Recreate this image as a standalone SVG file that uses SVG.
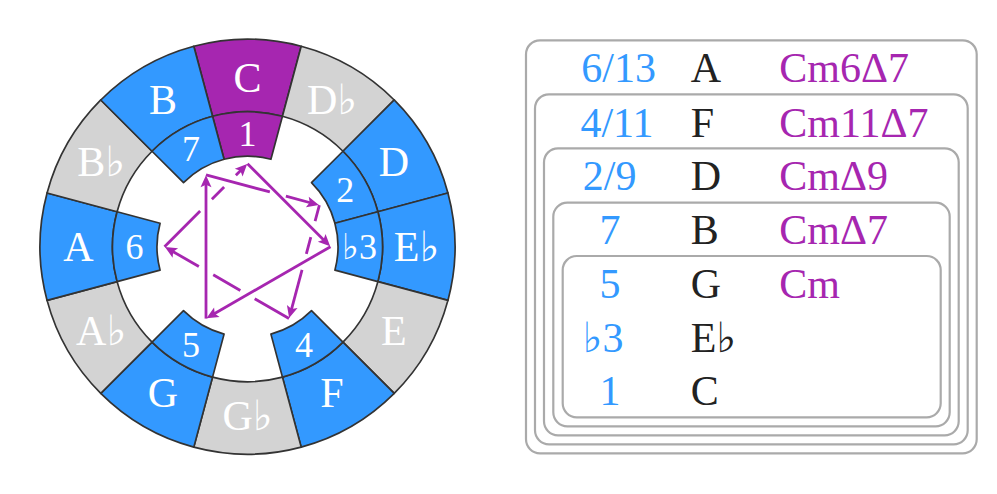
<svg xmlns="http://www.w3.org/2000/svg" width="997" height="494" viewBox="0 0 997 494">
<defs>
<style>
.wd{stroke:#333;stroke-width:1.7;stroke-linejoin:round}
.bl{fill:#3399FF}.gr{fill:#D3D3D3}.pu{fill:#A626B0}
.lo{font-family:"Liberation Serif","DejaVu Sans",serif;font-size:42px;fill:#fff;text-anchor:middle}
.li{font-family:"Liberation Serif","DejaVu Sans",serif;font-size:36px;fill:#fff;text-anchor:middle}
.ar{fill:none;stroke:#A626B0;stroke-width:2.8;stroke-linecap:butt}
.bx{fill:none;stroke:#AAAAAA;stroke-width:2.2}
.tt{font-family:"Liberation Serif","DejaVu Sans",serif;font-size:42px}
.tn{fill:#3399FF;text-anchor:middle}.tk{fill:#222}.tc{fill:#A626B0}
</style>
<marker id="ah" viewBox="-13 -7 14 14" markerWidth="14" markerHeight="14" refX="-7" refY="0" orient="auto" markerUnits="userSpaceOnUse">
<path d="M0,0 L-12,-5.5 L-9.5,0 L-12,5.5 Z" fill="#A626B0"/>
</marker>
</defs>

<g id="wheel" transform="translate(247.5,246.7)">
<g id="note-C">
<path class="wd pu" d="M-34.94,-130.4 L-53.71,-200.43 A207.5,207.5 0 0 1 53.71,-200.43 L34.94,-130.4 A135,135 0 0 0 -34.94,-130.4 Z"/>
<path class="wd pu" d="M-23.42,-87.42 L-34.94,-130.4 A135,135 0 0 1 34.94,-130.4 L23.42,-87.42 A90.5,90.5 0 0 0 -23.42,-87.42 Z"/>
<text class="lo" x="0" y="-155.1">C</text>
<text class="li" x="0" y="-100.8">1</text>
</g>
<g id="note-Db">
<path class="wd gr" transform="rotate(30)" d="M-34.94,-130.4 L-53.71,-200.43 A207.5,207.5 0 0 1 53.71,-200.43 L34.94,-130.4 A135,135 0 0 0 -34.94,-130.4 Z"/>
<text class="lo" x="84.5" y="-132.46">D♭</text>
</g>
<g id="note-D">
<path class="wd bl" transform="rotate(60)" d="M-34.94,-130.4 L-53.71,-200.43 A207.5,207.5 0 0 1 53.71,-200.43 L34.94,-130.4 A135,135 0 0 0 -34.94,-130.4 Z"/>
<path class="wd bl" transform="rotate(60)" d="M-23.42,-87.42 L-34.94,-130.4 A135,135 0 0 1 34.94,-130.4 L23.42,-87.42 A90.5,90.5 0 0 0 -23.42,-87.42 Z"/>
<text class="lo" x="146.36" y="-70.6">D</text>
<text class="li" x="97.86" y="-44.3">2</text>
</g>
<g id="note-Eb">
<path class="wd bl" transform="rotate(90)" d="M-34.94,-130.4 L-53.71,-200.43 A207.5,207.5 0 0 1 53.71,-200.43 L34.94,-130.4 A135,135 0 0 0 -34.94,-130.4 Z"/>
<path class="wd bl" transform="rotate(90)" d="M-23.42,-87.42 L-34.94,-130.4 A135,135 0 0 1 34.94,-130.4 L23.42,-87.42 A90.5,90.5 0 0 0 -23.42,-87.42 Z"/>
<text class="lo" x="169" y="13.9">E♭</text>
<text class="li" x="112" y="12.2">♭3</text>
</g>
<g id="note-E">
<path class="wd gr" transform="rotate(120)" d="M-34.94,-130.4 L-53.71,-200.43 A207.5,207.5 0 0 1 53.71,-200.43 L34.94,-130.4 A135,135 0 0 0 -34.94,-130.4 Z"/>
<text class="lo" x="146.36" y="98.4">E</text>
</g>
<g id="note-F">
<path class="wd bl" transform="rotate(150)" d="M-34.94,-130.4 L-53.71,-200.43 A207.5,207.5 0 0 1 53.71,-200.43 L34.94,-130.4 A135,135 0 0 0 -34.94,-130.4 Z"/>
<path class="wd bl" transform="rotate(150)" d="M-23.42,-87.42 L-34.94,-130.4 A135,135 0 0 1 34.94,-130.4 L23.42,-87.42 A90.5,90.5 0 0 0 -23.42,-87.42 Z"/>
<text class="lo" x="84.5" y="160.26">F</text>
<text class="li" x="56.5" y="110.06">4</text>
</g>
<g id="note-Gb">
<path class="wd gr" transform="rotate(180)" d="M-34.94,-130.4 L-53.71,-200.43 A207.5,207.5 0 0 1 53.71,-200.43 L34.94,-130.4 A135,135 0 0 0 -34.94,-130.4 Z"/>
<text class="lo" x="0" y="182.9">G♭</text>
</g>
<g id="note-G">
<path class="wd bl" transform="rotate(210)" d="M-34.94,-130.4 L-53.71,-200.43 A207.5,207.5 0 0 1 53.71,-200.43 L34.94,-130.4 A135,135 0 0 0 -34.94,-130.4 Z"/>
<path class="wd bl" transform="rotate(210)" d="M-23.42,-87.42 L-34.94,-130.4 A135,135 0 0 1 34.94,-130.4 L23.42,-87.42 A90.5,90.5 0 0 0 -23.42,-87.42 Z"/>
<text class="lo" x="-84.5" y="160.26">G</text>
<text class="li" x="-56.5" y="110.06">5</text>
</g>
<g id="note-Ab">
<path class="wd gr" transform="rotate(240)" d="M-34.94,-130.4 L-53.71,-200.43 A207.5,207.5 0 0 1 53.71,-200.43 L34.94,-130.4 A135,135 0 0 0 -34.94,-130.4 Z"/>
<text class="lo" x="-146.36" y="98.4">A♭</text>
</g>
<g id="note-A">
<path class="wd bl" transform="rotate(270)" d="M-34.94,-130.4 L-53.71,-200.43 A207.5,207.5 0 0 1 53.71,-200.43 L34.94,-130.4 A135,135 0 0 0 -34.94,-130.4 Z"/>
<path class="wd bl" transform="rotate(270)" d="M-23.42,-87.42 L-34.94,-130.4 A135,135 0 0 1 34.94,-130.4 L23.42,-87.42 A90.5,90.5 0 0 0 -23.42,-87.42 Z"/>
<text class="lo" x="-169" y="13.9">A</text>
<text class="li" x="-113" y="12.2">6</text>
</g>
<g id="note-Bb">
<path class="wd gr" transform="rotate(300)" d="M-34.94,-130.4 L-53.71,-200.43 A207.5,207.5 0 0 1 53.71,-200.43 L34.94,-130.4 A135,135 0 0 0 -34.94,-130.4 Z"/>
<text class="lo" x="-146.36" y="-70.6">B♭</text>
</g>
<g id="note-B">
<path class="wd bl" transform="rotate(330)" d="M-34.94,-130.4 L-53.71,-200.43 A207.5,207.5 0 0 1 53.71,-200.43 L34.94,-130.4 A135,135 0 0 0 -34.94,-130.4 Z"/>
<path class="wd bl" transform="rotate(330)" d="M-23.42,-87.42 L-34.94,-130.4 A135,135 0 0 1 34.94,-130.4 L23.42,-87.42 A90.5,90.5 0 0 0 -23.42,-87.42 Z"/>
<text class="lo" x="-84.5" y="-132.46">B</text>
<text class="li" x="-56.5" y="-85.66">7</text>
</g>

<g id="connectors">
<path class="ar" marker-end="url(#ah)" d="M0,-83 L77.71,-5.29"/>
<path class="ar" marker-end="url(#ah)" d="M83,0 L-35,68.13"/>
<path class="ar" marker-end="url(#ah)" d="M-41.5,71.88 L-41.5,-64.38"/>
<path class="ar" d="M-41.5,-71.88 L22.35,-54.77"/>
<path class="ar" marker-end="url(#ah)" d="M38.38,-50.48 L64.65,-43.44"/>
<path class="ar" d="M71.88,-41.5 L67.61,-25.56 M63.31,-9.53 L58.84,7.18"/>
<path class="ar" marker-end="url(#ah)" d="M54.54,23.22 L43.44,64.65"/>
<path class="ar" d="M41.5,71.88 L7.21,52.08 M-7.17,43.78 L-34.28,28.13"/>
<path class="ar" marker-end="url(#ah)" d="M-48.65,19.83 L-76.5,3.75"/>
<path class="ar" d="M-83,0 L-47.36,-35.64 M-35.62,-47.38 L-23.39,-59.61"/>
<path class="ar" marker-end="url(#ah)" d="M-11.65,-71.35 L-5.29,-77.71"/>
</g>
</g>

<g id="table">
<rect id="box-13" class="bx" x="526" y="40.3" width="450.7" height="413" rx="14"/>
<rect id="box-11" class="bx" x="535" y="94.3" width="432.7" height="350" rx="14"/>
<rect id="box-9" class="bx" x="544" y="148.3" width="414.7" height="287" rx="14"/>
<rect id="box-7" class="bx" x="553.3" y="202.7" width="396.4" height="223.6" rx="14"/>
<rect id="box-5" class="bx" x="562.7" y="256" width="378" height="161.3" rx="14"/>
<g class="tt">
<text class="tn" x="618.7" y="82">6/13</text><text class="tk" x="690.7" y="82">A</text><text class="tc" x="779.3" y="82">Cm6Δ7</text>
<text class="tn" x="617" y="136.5">4/11</text><text class="tk" x="690.7" y="136.5">F</text><text class="tc" x="779.3" y="136.5">Cm11Δ7</text>
<text class="tn" x="609.7" y="190">2/9</text><text class="tk" x="690.7" y="190">D</text><text class="tc" x="779.3" y="190">CmΔ9</text>
<text class="tn" x="610" y="244">7</text><text class="tk" x="690.7" y="244">B</text><text class="tc" x="779.3" y="244">CmΔ7</text>
<text class="tn" x="610" y="298">5</text><text class="tk" x="690.7" y="298">G</text><text class="tc" x="779.3" y="298">Cm</text>
<text class="tn" x="603" y="351.5">♭3</text><text class="tk" x="690.7" y="351.5">E♭</text>
<text class="tn" x="610" y="405">1</text><text class="tk" x="690.7" y="405">C</text>
</g>
</g>
</svg>
